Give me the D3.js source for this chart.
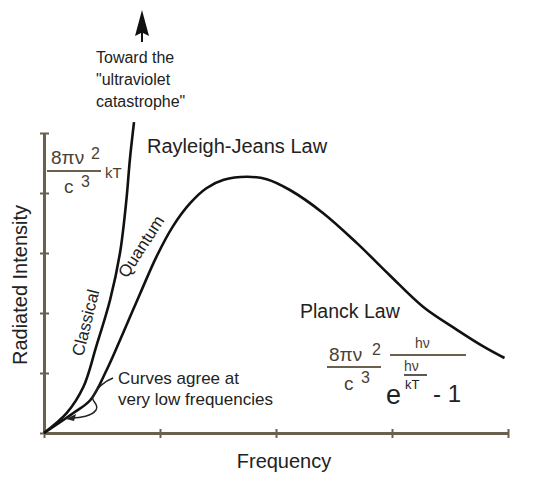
<!DOCTYPE html>
<html><head><meta charset="utf-8">
<script src="https://cdn.jsdelivr.net/npm/d3@7"></script>
<style>body{margin:0;background:#fff}text{font-family:"Liberation Sans",Arial,sans-serif}</style>
</head><body><svg id="c" width="533" height="480"></svg>
<script>
const xTicks=[0,1,2,3,4];
const yTicks=[0,1,2,3,4,5];
const planckX=[0,0.25,0.40,0.54,0.68,0.83,0.97,1.11,1.26,1.40,1.55,1.75,1.92,2.12,2.41,2.70,2.98,3.27,3.56,3.79,3.97];
const planckY=[0,0.33,0.55,1.05,1.66,2.33,2.94,3.44,3.83,4.08,4.22,4.27,4.23,4.05,3.66,3.16,2.63,2.10,1.72,1.44,1.25];
const classicalX=[0,0.195,0.34,0.45,0.57,0.655,0.71,0.74,0.776];
const classicalY=[0,0.33,0.77,1.44,2.22,3.0,3.88,4.55,5.18];

const svg=d3.select("#c");
const x=d3.scaleLinear().domain([0,4]).range([44,508]);
const y=d3.scaleLinear().domain([0,5]).range([433,133]);
const axCol="#6b604e";
const xa=svg.append("g").attr("transform","translate(0,433)")
  .call(d3.axisBottom(x).tickValues(xTicks).tickFormat("").tickSizeInner(5).tickSizeOuter(0));
xa.selectAll(".tick line").attr("y1",-4).attr("y2",5);
const ya=svg.append("g").attr("transform","translate(44,0)")
  .call(d3.axisLeft(y).tickValues(yTicks).tickFormat("").tickSizeInner(5).tickSizeOuter(0));
ya.selectAll(".tick line").attr("x1",5).attr("x2",-4);
svg.selectAll(".domain").attr("stroke",axCol).attr("stroke-width",3);
svg.selectAll(".tick line").attr("stroke",axCol).attr("stroke-width",2);

const line=d3.line().x(d=>x(d[0])).y(d=>y(d[1])).curve(d3.curveCatmullRom);
svg.append("path").attr("d",line(planckX.map((v,i)=>[v,planckY[i]])))
  .attr("fill","none").attr("stroke","#111").attr("stroke-width",2.6);
svg.append("path").attr("d",line(classicalX.map((v,i)=>[v,classicalY[i]])))
  .attr("fill","none").attr("stroke","#111").attr("stroke-width",2.6);

const T=(t,xx,yy,s,opt={})=>{const e=svg.append("text").attr("x",xx).attr("y",yy)
  .attr("font-size",s).attr("fill",opt.fill||"#222").text(t);
  if(opt.anchor)e.attr("text-anchor",opt.anchor);
  if(opt.rot!==undefined)e.attr("transform",`rotate(${opt.rot},${xx},${yy})`);return e;};

svg.append("path").attr("d","M142,10 L135,36 L141,33 L141,42 L143,42 L143,33 L149,36 Z").attr("fill","#111");
T("Toward the",96,63,16);
T("\"ultraviolet",96,85,16);
T("catastrophe\"",96,107,16);
T("Rayleigh-Jeans Law",147,153,20);
const fc="#4a4135";
T("8πν",51,164,19,{fill:fc});T("2",91,159,16,{fill:fc});
svg.append("line").attr("x1",47).attr("x2",101).attr("y1",171).attr("y2",171).attr("stroke",axCol).attr("stroke-width",2);
T("c",64,193,19,{fill:fc});T("3",81,187,16,{fill:fc});
T("kT",105,178,15,{fill:fc});

T("Planck Law",300,318,19.5);
T("8πν",329,361,19,{fill:fc});T("2",372,355,16,{fill:fc});
svg.append("line").attr("x1",327).attr("x2",381).attr("y1",367).attr("y2",367).attr("stroke",axCol).attr("stroke-width",2);
T("c",344,390,19,{fill:fc});T("3",361,383,16,{fill:fc});
svg.append("line").attr("x1",390).attr("x2",466).attr("y1",355).attr("y2",355).attr("stroke",axCol).attr("stroke-width",2);
T("hν",415,348,14,{fill:fc});
T("hν",404,371,14,{fill:fc});
svg.append("line").attr("x1",404).attr("x2",427).attr("y1",375).attr("y2",375).attr("stroke","#222").attr("stroke-width",1.5);
T("e",386,404,27,{fill:"#222"});
T("kT",405,389,13,{fill:"#222"});
T("- 1",433,402,24,{fill:"#222"});

T("Curves agree at",118,384,17);
T("very low frequencies",118,405,17);
svg.append("path").attr("d","M113,378 C103,382 96,390 93,396 C90,401 100,404 96,410 C92,416 80,418 72,418")
  .attr("fill","none").attr("stroke","#222").attr("stroke-width",1.5);
svg.append("path").attr("d","M66,419 L76,414 L74,421 Z").attr("fill","#222");

T("Classical",83,357,17,{rot:-76});
T("Quantum",127,279,17,{rot:-57});
T("Radiated Intensity",27,285,20,{rot:-90,anchor:"middle"});
T("Frequency",284,468,20,{anchor:"middle"});
</script></body></html>
